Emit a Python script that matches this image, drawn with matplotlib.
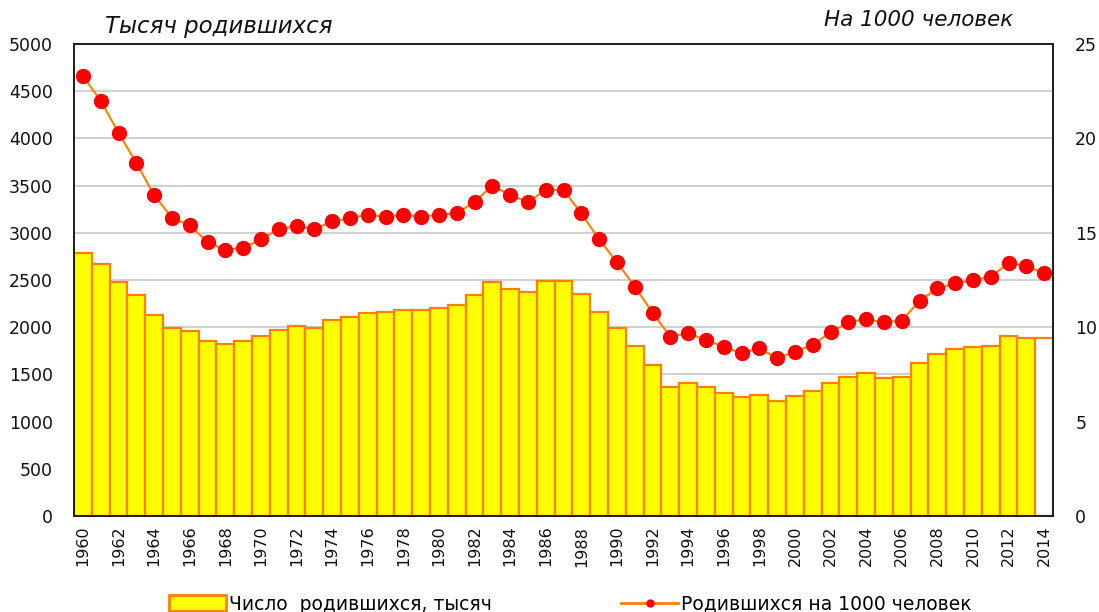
import numpy as np
import matplotlib.pyplot as plt
from matplotlib.lines import Line2D
from matplotlib.patches import Patch

plt.rcParams['font.family'] = ['DejaVu Sans']

# data
years = list(range(1960, 2015))
births = [2789, 2666, 2475, 2338, 2129, 1991, 1956, 1854, 1819, 1854,
          1907, 1974, 2009, 1991, 2076, 2112, 2147, 2165, 2182, 2182,
          2200, 2235, 2338, 2475, 2408, 2373, 2493, 2493, 2355, 2165,
          1991, 1804, 1596, 1370, 1406, 1370, 1300, 1264, 1282, 1218,
          1268, 1321, 1406, 1476, 1511, 1458, 1476, 1617, 1716, 1766,
          1787, 1804, 1907, 1889, 1889]
rate = [23.3, 22.0, 20.3, 18.7, 17.0, 15.8, 15.4, 14.5, 14.1, 14.2,
        14.65, 15.2, 15.36, 15.2, 15.6, 15.77, 15.96, 15.85, 15.96, 15.85,
        15.96, 16.03, 16.63, 17.5, 17.0, 16.63, 17.27, 17.27, 16.03, 14.65,
        13.45, 12.15, 10.77, 9.5, 9.68, 9.32, 8.97, 8.62, 8.88, 8.35,
        8.7, 9.06, 9.73, 10.26, 10.43, 10.26, 10.35, 11.39, 12.06, 12.32,
        12.5, 12.68, 13.38, 13.26, 12.85]
xticks = years[::2]

yellow = '#FFFF00'
orange = '#FF7F00'
red = '#FF0000'

fig = plt.figure(figsize=(10.99, 6.12), dpi=100)
ax = fig.add_axes([74/1099, 96/612, 979/1099, 472/612])

# last bar (2014) is drawn unfilled in the original
fills = [yellow] * (len(years) - 1) + ['white']
ax.bar(years, births, width=1.0, color=fills, edgecolor=orange, linewidth=1.6, zorder=2)
ax.set_xlim(1959.5, 2014.5)
ax.set_ylim(0, 5000)
ax.set_yticks(range(0, 5001, 500))
ax.yaxis.grid(True, color='#c8c8c8', linewidth=1.2, zorder=0)
ax.set_axisbelow(True)
ax.set_xticks(xticks)
ax.set_xticklabels([str(y) for y in xticks], rotation=90, fontsize=11.5)
ax.tick_params(axis='y', labelsize=12.5, length=0, pad=15, labelcolor='#111111')
ax.tick_params(axis='x', length=0, pad=7, labelcolor='#111111')
for s in ax.spines.values():
    s.set_color('#222222')
    s.set_linewidth(1.4)

ax2 = ax.twinx()
ax2.plot(years, rate, color=orange, linewidth=1.5, marker='o', markersize=10,
         markerfacecolor=red, markeredgecolor=red, zorder=3)
ax2.set_ylim(0, 25)
ax2.set_yticks(range(0, 26, 5))
ax2.tick_params(axis='y', labelsize=12.5, length=0, pad=16, labelcolor='#111111')
for s in ax2.spines.values():
    s.set_color('#222222')
    s.set_linewidth(1.4)

fig.text(105/1099, 1 - 27/612, 'Тысяч родившихся', fontsize=16.5, style='italic',
         ha='left', va='center', color='#111111')
fig.text(1013/1099, 1 - 20/612, 'На 1000 человек', fontsize=15.5, style='italic',
         ha='right', va='center', color='#111111')

h1 = Patch(facecolor=yellow, edgecolor=orange, linewidth=2)
h2 = Line2D([0], [0], color=orange, linewidth=2, marker='o', markersize=5,
            markerfacecolor=red, markeredgecolor=red)
fig.legend([h1], ['Число  родившихся, тысяч'], loc='center left',
           bbox_to_anchor=(160/1099, 1 - 604/612), frameon=False, fontsize=13.5,
           handlelength=3.0, handleheight=0.9, handletextpad=0.2, borderpad=0)
fig.legend([h2], ['Родившихся на 1000 человек'], loc='center left',
           bbox_to_anchor=(612/1099, 1 - 604/612), frameon=False, fontsize=13.5,
           handlelength=3.0, handletextpad=0.2, borderpad=0)

fig.savefig('out.png', dpi=100)
